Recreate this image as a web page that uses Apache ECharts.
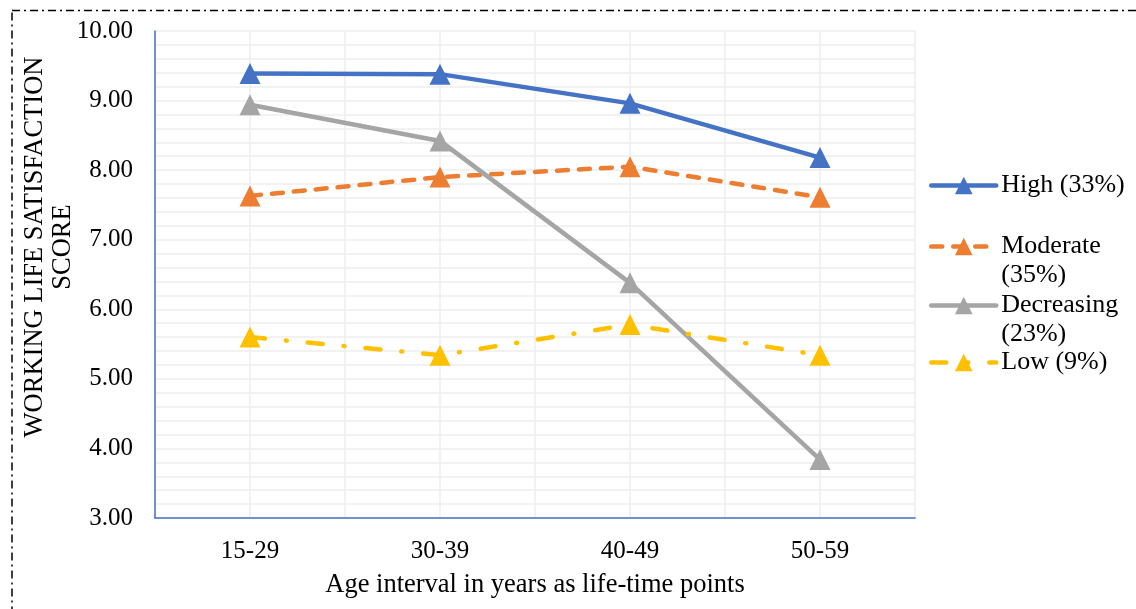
<!DOCTYPE html>
<html>
<head>
<meta charset="utf-8">
<script src="https://cdn.jsdelivr.net/npm/echarts@6/dist/echarts.min.js"></script>
<style>
  html, body { margin: 0; padding: 0; background: #fff; }
  #chart { width: 1136px; height: 609px; }
</style>
</head>
<body>
<div id="chart"></div>
<script>
const categories = ['15-29', '30-39', '40-49', '50-59'];
const seriesNames = ['High (33%)', 'Moderate (35%)', 'Decreasing (23%)', 'Low (9%)'];
const highValues = [9.39, 9.38, 8.96, 8.18];
const moderateValues = [7.63, 7.90, 8.05, 7.61];
const decreasingValues = [8.94, 8.42, 6.38, 3.84];
const lowValues = [5.60, 5.34, 5.78, 5.34];

const font = '"Liberation Serif", "Times New Roman", serif';
const gridGray = '#EEEEEE';
const axisBlue = '#4472C4';

let chart = echarts.init(document.getElementById('chart'));

function makeSeries(name, data, color, type) {
  return {
    name: name,
    type: 'line',
    xAxisIndex: 0,
    data: data,
    symbol: 'triangle',
    symbolSize: 21,
    itemStyle: { color: color },
    lineStyle: { color: color, width: 4.5, type: type, cap: 'round' },
    z: 10
  };
}

// one legend per entry; two-line names get a blank first line so
// the icon lines up with the first visible line
function makeLegend(name, top, twoLines) {
  return {
    data: [name],
    orient: 'vertical',
    left: 929,
    top: top,
    padding: 0,
    itemWidth: 65,
    itemHeight: 22,
    itemGap: 5,
    lineStyle: { width: 4.5 },
    formatter: function (n) {
      return twoLines ? ' \n' + n.replace(' ', '\n') : n;
    },
    textStyle: {
      fontFamily: font,
      fontSize: 26,
      color: '#000',
      lineHeight: 29
    }
  };
}

let options = {
  animation: false,
  backgroundColor: '#fff',
  grid: { left: 155, top: 31, right: 221, bottom: 91, containLabel: false },
  legend: [
    makeLegend(seriesNames[0], 171, false),
    makeLegend(seriesNames[1], 203, true),
    makeLegend(seriesNames[2], 262, true),
    makeLegend(seriesNames[3], 348, false)
  ],
  xAxis: [
    {
      type: 'category',
      data: categories,
      boundaryGap: true,
      name: 'Age interval in years as life-time points',
      nameLocation: 'middle',
      nameGap: 54,
      nameTextStyle: { fontFamily: font, fontSize: 26.5, color: '#000' },
      axisLine: { lineStyle: { color: axisBlue, width: 1.5 } },
      axisTick: { show: false },
      axisLabel: { fontFamily: font, fontSize: 25, color: '#000', margin: 21 },
      splitLine: { show: false }
    },
    {
      // hidden helper axis for the half-category vertical grid lines
      type: 'value',
      min: 0,
      max: 8,
      interval: 1,
      position: 'top',
      axisLine: { show: false },
      axisTick: { show: false },
      axisLabel: { show: false },
      splitLine: { show: true, lineStyle: { color: gridGray, width: 1.5 } }
    }
  ],
  yAxis: {
    type: 'value',
    min: 3,
    max: 10,
    interval: 1,
    axisLine: { show: true, lineStyle: { color: axisBlue, width: 1.5 } },
    axisTick: { show: false },
    axisLabel: {
      fontFamily: font, fontSize: 25, color: '#000', margin: 22,
      formatter: function (v) { return v.toFixed(2); }
    },
    splitLine: { lineStyle: { color: gridGray, width: 1.5 } },
    minorTick: { show: false, splitNumber: 5 },
    minorSplitLine: { show: true, lineStyle: { color: gridGray, width: 1.5 } }
  },
  graphic: [
    {
      type: 'text',
      x: 49,
      y: 247,
      rotation: Math.PI / 2,
      style: {
        text: 'WORKING LIFE SATISFACTION\nSCORE',
        fontFamily: font,
        fontSize: 26.5,
        lineHeight: 28,
        fill: '#000',
        align: 'center',
        verticalAlign: 'middle'
      }
    },
    {
      type: 'rect',
      shape: { x: 12, y: 10.5, width: 1140, height: 620 },
      style: { fill: 'none', stroke: '#000', lineWidth: 1.5, lineDash: [8, 4, 2, 4] },
      silent: true
    }
  ],
  series: [
    makeSeries(seriesNames[0], highValues, '#4472C4', 'solid'),
    makeSeries(seriesNames[1], moderateValues, '#ED7D31', [11, 11]),
    makeSeries(seriesNames[2], decreasingValues, '#A5A5A5', 'solid'),
    makeSeries(seriesNames[3], lowValues, '#FFC000', [15, 21, 1, 21])
  ]
};

chart.setOption(options);
</script>
</body>
</html>
